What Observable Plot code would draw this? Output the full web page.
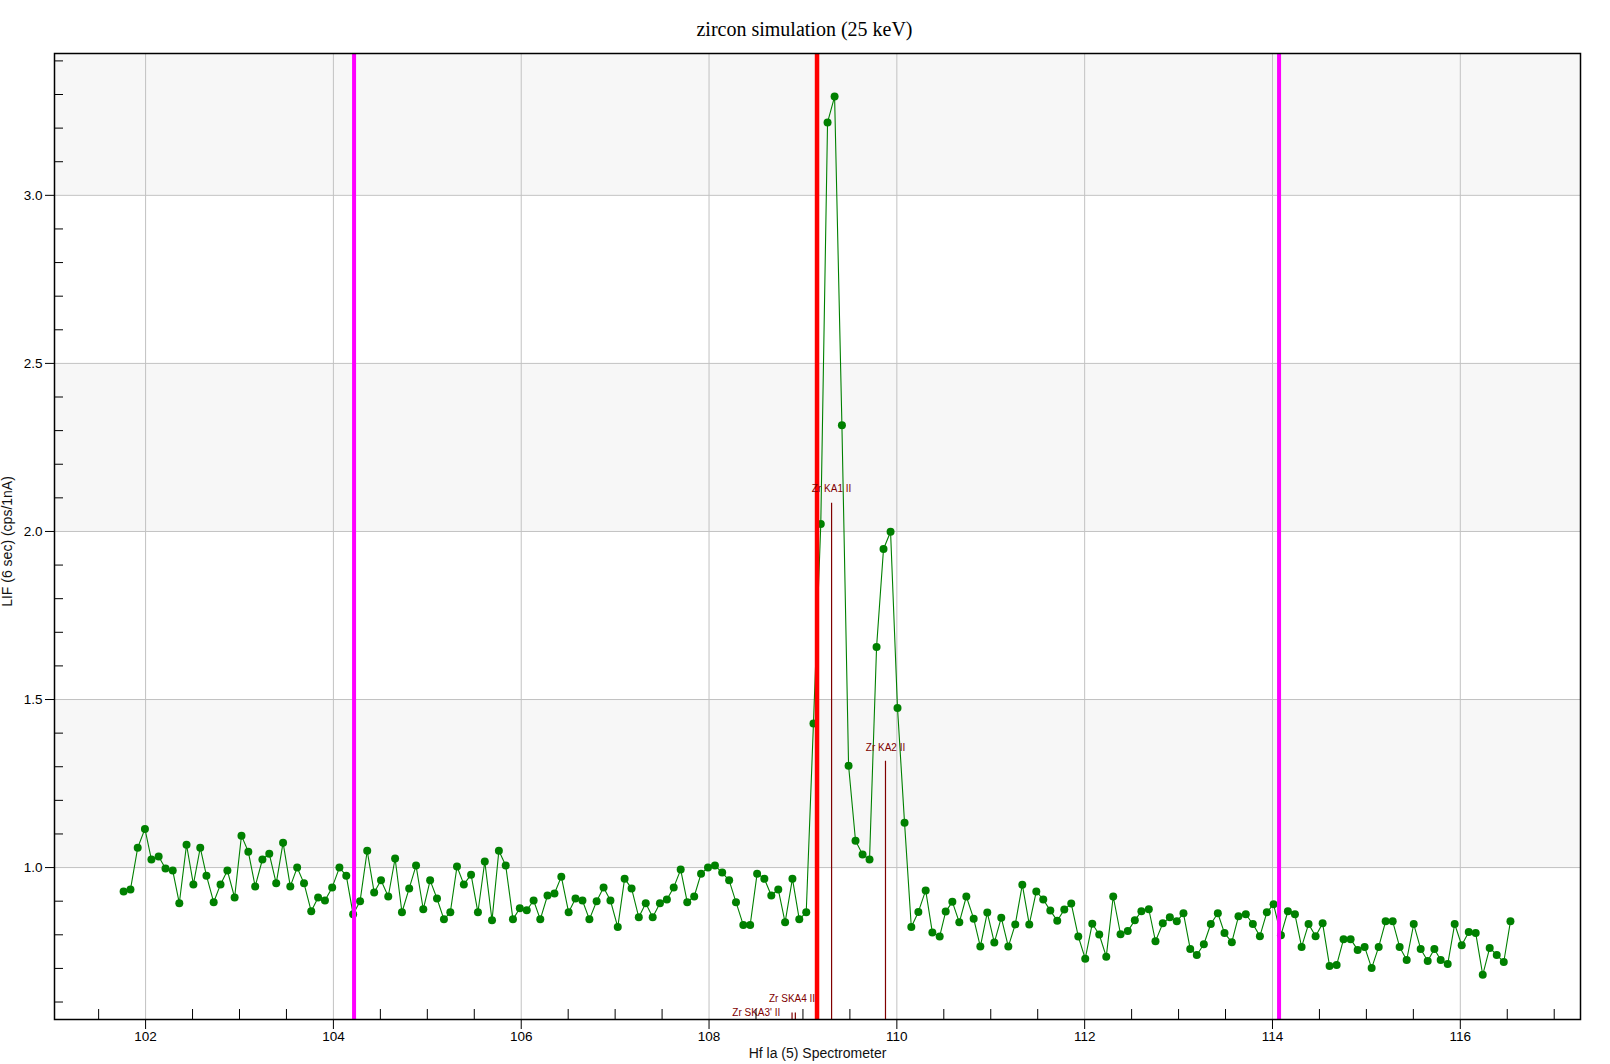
<!DOCTYPE html>
<html>
<head>
<meta charset="utf-8">
<script src="https://cdn.jsdelivr.net/npm/d3@7"></script>
<script src="https://cdn.jsdelivr.net/npm/@observablehq/plot@0.6"></script>
<style>
  html, body { margin: 0; padding: 0; background: #ffffff; }
  #chart { width: 1610px; height: 1064px; }
</style>
</head>
<body>
<div id="chart"></div>
<script>
// ---- data ----
const title = "zircon simulation (25 keV)";
const xLabel = "Hf la (5) Spectrometer";
const yLabel = "LIF (6 sec) (cps/1nA)";

const scanX = [
  101.766, 101.839, 101.916, 101.993, 102.062, 102.139, 102.212, 102.289, 102.359, 102.436,
  102.509, 102.582, 102.648, 102.725, 102.798, 102.871, 102.948, 103.021, 103.094, 103.167,
  103.244, 103.317, 103.391, 103.464, 103.541, 103.614, 103.687, 103.764, 103.837, 103.910,
  103.987, 104.064, 104.137, 104.210, 104.284, 104.360, 104.434, 104.507, 104.584, 104.657,
  104.730, 104.807, 104.880, 104.957, 105.030, 105.103, 105.177, 105.245, 105.316, 105.389,
  105.466, 105.539, 105.612, 105.689, 105.762, 105.835, 105.912, 105.985, 106.059, 106.132,
  106.203, 106.280, 106.354, 106.427, 106.505, 106.578, 106.652, 106.726, 106.803, 106.877,
  106.950, 107.028, 107.101, 107.175, 107.252, 107.326, 107.400, 107.477, 107.551, 107.624,
  107.698, 107.768, 107.842, 107.915, 107.989, 108.063, 108.140, 108.214, 108.287, 108.365,
  108.438, 108.512, 108.589, 108.663, 108.737, 108.810, 108.888, 108.961, 109.035, 109.112,
  109.190, 109.262, 109.337, 109.415, 109.486, 109.560, 109.635, 109.709, 109.784, 109.858,
  109.933, 110.007, 110.082, 110.154, 110.229, 110.307, 110.378, 110.456, 110.520, 110.591,
  110.665, 110.740, 110.818, 110.889, 110.963, 111.038, 111.112, 111.187, 111.261, 111.336,
  111.410, 111.485, 111.559, 111.634, 111.708, 111.783, 111.857, 111.932, 112.006, 112.081,
  112.155, 112.230, 112.304, 112.382, 112.459, 112.534, 112.604, 112.683, 112.754, 112.832,
  112.907, 112.981, 113.052, 113.124, 113.194, 113.269, 113.343, 113.418, 113.489, 113.567,
  113.638, 113.716, 113.791, 113.866, 113.940, 114.011, 114.090, 114.164, 114.239, 114.310,
  114.384, 114.459, 114.534, 114.608, 114.683, 114.757, 114.832, 114.907, 114.981, 115.056,
  115.131, 115.205, 115.280, 115.354, 115.429, 115.504, 115.578, 115.653, 115.724, 115.791,
  115.866, 115.940, 116.015, 116.090, 116.164, 116.239, 116.313, 116.388, 116.463, 116.534
];

const scanY = [
  0.929, 0.935, 1.059, 1.115, 1.024, 1.033, 0.997, 0.991, 0.894, 1.068,
  0.950, 1.059, 0.976, 0.897, 0.950, 0.991, 0.911, 1.095, 1.047, 0.944,
  1.024, 1.041, 0.953, 1.074, 0.944, 1.000, 0.953, 0.870, 0.911, 0.902,
  0.941, 1.000, 0.976, 0.861, 0.900, 1.050, 0.926, 0.962, 0.914, 1.027,
  0.867, 0.938, 1.006, 0.876, 0.962, 0.908, 0.846, 0.867, 1.003, 0.950,
  0.979, 0.867, 1.018, 0.843, 1.050, 1.006, 0.846, 0.879, 0.873, 0.902,
  0.846, 0.917, 0.923, 0.973, 0.867, 0.908, 0.902, 0.846, 0.900, 0.941,
  0.902, 0.823, 0.967, 0.938, 0.852, 0.894, 0.852, 0.894, 0.905, 0.941,
  0.994, 0.897, 0.914, 0.982, 1.000, 1.006, 0.985, 0.962, 0.897, 0.829,
  0.829, 0.982, 0.967, 0.917, 0.935, 0.837, 0.967, 0.846, 0.867, 1.429,
  2.022, 3.217, 3.294, 2.316, 1.303, 1.080, 1.039, 1.024, 1.656, 1.948,
  1.999, 1.475, 1.133, 0.823, 0.868, 0.932, 0.807, 0.795, 0.869, 0.898,
  0.837, 0.914, 0.848, 0.765, 0.866, 0.777, 0.851, 0.765, 0.831, 0.949,
  0.831, 0.929, 0.905, 0.872, 0.842, 0.875, 0.893, 0.795, 0.729, 0.833,
  0.801, 0.735, 0.914, 0.802, 0.811, 0.843, 0.870, 0.876, 0.781, 0.834,
  0.852, 0.840, 0.864, 0.758, 0.740, 0.772, 0.832, 0.864, 0.805, 0.778,
  0.855, 0.861, 0.832, 0.796, 0.867, 0.891, 0.799, 0.870, 0.861, 0.764,
  0.832, 0.796, 0.834, 0.707, 0.710, 0.787, 0.787, 0.755, 0.764, 0.701,
  0.764, 0.840, 0.840, 0.764, 0.725, 0.832, 0.758, 0.722, 0.758, 0.725,
  0.713, 0.832, 0.769, 0.808, 0.805, 0.681, 0.761, 0.740, 0.719, 0.840
];

// spectrometer positions: peak (red) and background (magenta)
const peakPos = [109.15];
const backgroundPos = [104.22, 114.07];

// KLM line markers
const klmNames = ["Zr KA1 II", "Zr KA2 II", "Zr SKA4 II", "Zr SKA3' II"];
const klmPos = [109.305, 109.879, 108.884, 108.919];
const klmHeight = [2.084, 1.316, 0.567, 0.567];

// axes
const xDomain = [101.03, 117.28];
const yDomain = [0.548, 3.422];
const xMajorTicks = [102, 104, 106, 108, 110, 112, 114, 116];
const yMajorTicks = [1.0, 1.5, 2.0, 2.5, 3.0];

// ---- derived tables ----
const points = scanX.map((x, i) => ({x, y: scanY[i]}));
const klm = klmNames.map((name, i) => ({name, x: klmPos[i], top: klmHeight[i]}));
const xMinorTicks = d3.range(101.5, 117.01, 0.5).filter(v => !xMajorTicks.includes(v));
const yMinorTicks = d3.range(6, 35).map(v => v / 10).filter(v => !yMajorTicks.some(t => Math.abs(t - v) < 1e-9));
const bands = yMajorTicks.filter(v => Number.isInteger(v)).map(v => ({lo: v, hi: Math.min(v + 0.5, yDomain[1])}));

const sans = "'Liberation Sans', Arial, Helvetica, sans-serif";

const chart = Plot.plot({
  width: 1610,
  height: 1064,
  marginLeft: 54,
  marginRight: 30,
  marginTop: 53,
  marginBottom: 45,
  style: {fontFamily: sans, fontSize: "13.5px", background: "#ffffff", color: "#000", overflow: "visible"},
  x: {domain: xDomain, label: null},
  y: {domain: yDomain, label: null},
  marks: [
    Plot.rect(bands, {y1: "lo", y2: "hi", fill: "#f7f7f7"}),
    Plot.gridX(xMajorTicks, {stroke: "#c2c2c2", strokeOpacity: 1, strokeWidth: 1}),
    Plot.gridY(yMajorTicks, {stroke: "#c2c2c2", strokeOpacity: 1, strokeWidth: 1}),
    Plot.ruleX(klm, {x: "x", y1: yDomain[0], y2: "top", stroke: "#800000", strokeWidth: 1.2}),
    Plot.line(points, {x: "x", y: "y", stroke: "#008000", strokeWidth: 1.1}),
    Plot.dot(points, {x: "x", y: "y", r: 4, fill: "#008000", stroke: "none"}),
    Plot.ruleX(backgroundPos, {stroke: "#ff00ff", strokeWidth: 4}),
    Plot.ruleX(peakPos, {stroke: "#ff0000", strokeWidth: 4.5}),
    Plot.text(klm.slice(0, 3), {x: "x", y: "top", text: "name", dy: -14, fill: "#800000", fontSize: 10, fontFamily: sans}),
    Plot.text(klm.slice(3), {x: "x", y: "top", text: "name", textAnchor: "end", dx: -15, dy: 0, fill: "#800000", fontSize: 10, fontFamily: sans}),
    Plot.frame({stroke: "#000", strokeWidth: 1.5}),
    Plot.axisX(xMajorTicks, {tickSize: 10, tickPadding: 2, fontSize: 13.5, label: null, stroke: "#000"}),
    Plot.axisX(xMinorTicks, {tickSize: -10, tickFormat: () => "", label: null, stroke: "#000"}),
    Plot.axisY(yMajorTicks, {tickSize: 9, tickPadding: 3, tickFormat: d3.format(".1f"), fontSize: 13.5, label: null, stroke: "#000"}),
    Plot.axisY(yMinorTicks, {tickSize: -9, tickFormat: () => "", label: null, stroke: "#000"}),
    Plot.text([title], {frameAnchor: "top", lineAnchor: "middle", textAnchor: "middle", dx: -13, dy: -24, fontSize: 20, fontFamily: "'Liberation Serif', 'Times New Roman', serif", fill: "#000"}),
    Plot.text([xLabel], {frameAnchor: "bottom", lineAnchor: "middle", textAnchor: "middle", dy: 34, fontSize: 14, fill: "#111"}),
    Plot.text([yLabel], {frameAnchor: "left", lineAnchor: "middle", textAnchor: "middle", rotate: -90, dx: -47, dy: 5, fontSize: 14, fill: "#111"})
  ]
});

document.getElementById("chart").appendChild(chart);
</script>
</body>
</html>
